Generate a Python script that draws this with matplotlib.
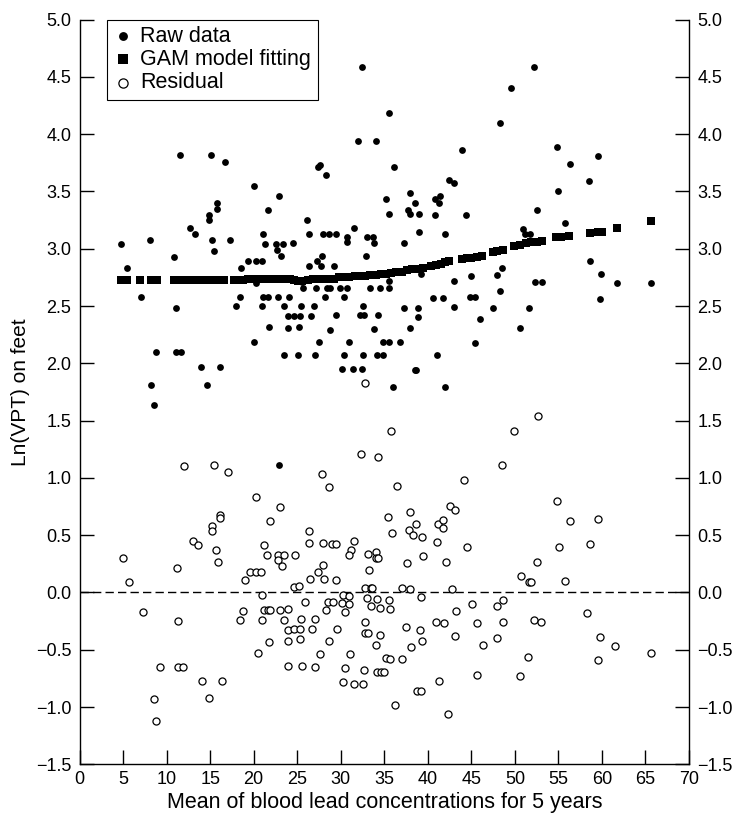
import matplotlib
matplotlib.use("Agg")
import matplotlib.pyplot as plt

plt.rcParams['font.family'] = ['Liberation Sans', 'DejaVu Sans']

# raw data points (blood lead, ln VPT)
raw_x = [4.8, 5.46, 7.1, 8.07, 8.18, 8.5, 8.83, 10.86, 11.05, 11.05, 11.6, 11.5,
         12.7, 13.28, 13.9, 14.6, 14.9, 14.9, 15.15, 15.26, 15.4, 15.77, 15.77,
         16.15, 16.7, 17.3, 18.0, 18.4, 18.6, 19.3, 20.0, 22.9, 27.4, 27.6, 28.3,
         32.0, 32.4, 34.0, 35.5, 36.1, 35.2, 21.7, 26.15, 35.6, 38.0, 38.5, 37.7,
         38.0, 39.0, 39.0, 21.06, 26.3, 27.95, 28.7, 29.45, 31.5, 30.75, 30.75,
         33.0, 33.7, 33.8, 21.3, 22.6, 23.35, 22.7, 23.1, 24.5, 37.25, 20.25,
         20.9, 26.3, 27.3, 27.9, 27.7, 29.2, 32.95, 20.3, 21.1, 21.7, 22.85, 24.1,
         25.7, 27.2, 28.4, 28.8, 28.2, 29.9, 30.7, 30.4, 33.35, 34.5, 35.6, 35.6,
         20.9, 23.5, 25.4, 26.95, 37.3, 24.0, 24.6, 25.3, 26.6, 29.4, 32.25, 32.7,
         34.3, 32.6, 38.9, 38.9, 21.75, 23.9, 25.2, 28.8, 33.8, 37.9, 20.0, 27.5,
         31.0, 34.9, 35.6, 36.8, 23.5, 25.1, 27.0, 30.4, 32.55, 34.15, 34.85,
         30.2, 31.4, 32.4, 38.5, 38.7, 36.0, 25.6, 52.2, 49.6, 48.25, 43.96, 54.8,
         59.6, 56.3, 42.4, 43.0, 58.5, 55.0, 40.8, 41.35, 41.3, 40.8, 44.4, 52.55,
         41.96, 50.9, 51.2, 51.75, 55.7, 58.6, 48.5, 47.9, 59.9, 39.25, 45.0,
         43.0, 52.35, 53.1, 61.75, 65.6, 40.6, 41.75, 44.8, 45.4, 48.25, 59.8,
         43.05, 47.5, 51.6, 46.0, 50.6, 45.4, 41.0, 41.95, 22.96]
raw_y = [3.04, 2.83, 2.58, 3.08, 1.81, 1.64, 2.10, 2.93, 2.48, 2.10, 2.10, 3.82,
         3.18, 3.13, 1.97, 1.81, 3.29, 3.25, 3.82, 3.08, 2.98, 3.40, 3.35,
         1.97, 3.76, 3.08, 2.50, 2.58, 2.83, 2.89, 3.55, 3.46, 3.71, 3.73, 3.64,
         3.94, 4.59, 3.94, 4.18, 3.71, 3.43, 3.34, 3.25, 3.30, 3.49, 3.40, 3.34,
         3.30, 3.30, 3.15, 3.13, 3.13, 3.13, 3.13, 3.13, 3.18, 3.10, 3.06,
         3.10, 3.10, 3.05, 3.04, 3.04, 3.04, 2.99, 2.94, 3.05, 3.05, 2.89,
         2.89, 2.85, 2.89, 2.94, 2.85, 2.85, 2.94, 2.70, 2.58, 2.58, 2.58, 2.58,
         2.66, 2.66, 2.66, 2.66, 2.58, 2.66, 2.66, 2.58, 2.66, 2.66, 2.66, 2.72,
         2.50, 2.50, 2.50, 2.50, 2.48, 2.41, 2.41, 2.41, 2.41, 2.42, 2.42, 2.42,
         2.42, 2.50, 2.48, 2.40, 2.32, 2.31, 2.32, 2.29, 2.30, 2.31, 2.19, 2.19,
         2.19, 2.19, 2.19, 2.19, 2.07, 2.07, 2.07, 2.07, 2.07, 2.07, 2.07,
         1.95, 1.95, 1.95, 1.94, 1.94, 1.79, 2.71, 4.59, 4.40, 4.10, 3.86, 3.89,
         3.81, 3.74, 3.60, 3.57, 3.59, 3.50, 3.43, 3.46, 3.40, 3.29, 3.29, 3.34,
         3.13, 3.17, 3.13, 3.13, 3.22, 2.89, 2.83, 2.77, 2.78, 2.78, 2.76,
         2.72, 2.71, 2.71, 2.70, 2.70, 2.57, 2.57, 2.58, 2.58, 2.63, 2.56,
         2.49, 2.48, 2.48, 2.39, 2.31, 2.18, 2.07, 1.79, 1.11]

# GAM fitted values
fit_x = [4.8, 5.5, 6.9, 8.2, 8.9, 10.8, 11.5, 12.5, 13.1, 13.7, 14.3, 14.8, 15.4,
         16.0, 16.6, 17.7, 18.2, 18.8, 19.4, 20.0, 20.6, 21.2, 21.8, 22.4, 23.0,
         23.6, 24.2, 24.6, 25.1, 25.6, 26.2, 26.8, 27.4, 28.0, 28.6, 29.2, 29.8,
         30.4, 31.0, 31.6, 32.2, 32.8, 33.4, 34.0, 34.6, 35.2, 35.8, 36.4, 37.0,
         37.6, 38.2, 38.8, 39.4, 40.4, 40.9, 41.5, 42.0, 42.4, 43.9, 44.5, 45.0,
         45.6, 46.2, 47.5, 48.0, 48.6, 49.9, 50.6, 51.3, 51.9, 52.5, 53.1, 54.7,
         55.3, 56.2, 58.6, 59.5, 60.0, 61.7, 65.6]
fit_y = [2.73, 2.73, 2.73, 2.73, 2.73, 2.73, 2.73, 2.73, 2.73, 2.73, 2.73, 2.73, 2.73,
         2.73, 2.73, 2.73, 2.73, 2.73, 2.74, 2.74, 2.74, 2.74, 2.74, 2.74, 2.74,
         2.74, 2.74, 2.73, 2.72, 2.72, 2.73, 2.74, 2.74, 2.74, 2.74, 2.74, 2.75,
         2.75, 2.75, 2.76, 2.76, 2.76, 2.77, 2.77, 2.78, 2.78, 2.79, 2.80, 2.80,
         2.81, 2.82, 2.82, 2.83, 2.85, 2.86, 2.87, 2.88, 2.89, 2.91, 2.92, 2.92,
         2.93, 2.94, 2.97, 2.98, 2.99, 3.02, 3.03, 3.05, 3.06, 3.06, 3.07, 3.10,
         3.10, 3.11, 3.14, 3.15, 3.15, 3.18, 3.24]

# residuals
res_x = [4.96, 5.65, 7.26, 9.2, 8.56, 8.83, 11.17, 11.36, 11.3, 11.9, 11.97, 13.05,
         13.6, 14.1, 14.9, 15.27, 15.27, 15.5, 15.65, 15.85, 16.1, 16.1, 16.4, 17.1,
         18.95, 18.8, 18.45, 19.6, 20.25, 20.86, 20.25, 21.0, 21.2, 21.6, 21.9,
         20.9, 20.5, 21.8, 21.2, 21.5, 21.9, 23.05, 22.8, 23.5, 22.85, 23.3, 23.0,
         23.5, 23.9, 23.9, 24.0, 23.9,
         35.8, 32.3, 34.3, 27.8, 28.6, 36.5, 44.1, 35.4, 37.99, 42.5, 43.1, 41.2,
         41.7, 41.7, 38.65, 37.8, 38.3, 39.3, 35.9, 26.3, 26.4, 28.0, 29.05, 29.5,
         31.55, 31.2, 31.0, 24.7, 33.1, 34.1, 34.1, 34.3, 41.1, 39.4, 37.6, 42.1,
         44.5, 28.0, 27.4, 33.3, 26.5, 28.05, 29.4, 24.65, 25.25, 32.8, 33.5, 33.6,
         37.0, 37.9, 42.8, 30.3, 30.9, 39.2, 25.9, 28.5, 29.1, 30.1, 30.9, 28.3,
         30.5, 33.05, 34.2, 35.6, 33.5, 34.5, 35.7, 43.2, 45.1, 25.4, 27.0, 24.65,
         25.3, 26.75, 29.6, 32.8, 32.8, 33.15, 34.5, 37.5, 39.1, 40.9, 41.9, 45.7,
         25.3, 28.7, 34.1, 39.3, 43.1, 38.05, 27.6, 31.1, 35.15, 35.7, 37.0, 25.5,
         27.1, 30.5, 32.7, 34.2, 34.6, 35.0, 30.3, 31.5, 32.5, 41.3, 38.8, 39.2,
         36.2, 42.3, 32.75,
         52.6, 49.9, 48.5, 54.8, 56.3, 59.5, 55.1, 58.6, 52.55, 50.75, 51.6, 51.9,
         55.8, 48.0, 48.6, 48.6, 52.2, 53.0, 58.3, 59.75, 61.5, 65.6, 46.3, 47.9,
         51.5, 59.6, 45.7, 50.6]
res_y = [0.305, 0.095, -0.17, -0.65, -0.93, -1.12, 0.21, -0.25, -0.65, -0.65, 1.107, 0.45,
         0.41, -0.77, -0.92, 0.58, 0.54, 1.11, 0.37, 0.27, 0.68, 0.65, -0.77, 1.05,
         0.11, -0.16, -0.24, 0.175, 0.175, 0.175, 0.83, -0.02, -0.157, -0.157, -0.157,
         -0.24, -0.53, -0.43, 0.41, 0.33, 0.62, 0.745, 0.33, 0.33, 0.28, 0.23, -0.15,
         -0.24, -0.145, -0.33, -0.42, -0.64,
         1.41, 1.21, 1.18, 1.03, 0.92, 0.93, 0.98, 0.66, 0.70, 0.757, 0.72, 0.60,
         0.63, 0.56, 0.60, 0.545, 0.50, 0.48, 0.52, 0.54, 0.43, 0.43, 0.42, 0.42,
         0.445, 0.37, 0.33, 0.33, 0.34, 0.35, 0.30, 0.30, 0.44, 0.32, 0.26, 0.27,
         0.40, 0.24, 0.18, 0.20, 0.12, 0.12, 0.11, 0.05, 0.06, 0.04, 0.04, 0.04,
         0.04, 0.03, 0.03, -0.02, -0.03, -0.04, -0.08, -0.08, -0.08, -0.09, -0.10, -0.15,
         -0.17, -0.05, -0.055, -0.07, -0.12, -0.135, -0.14, -0.16, -0.10, -0.23, -0.23, -0.32,
         -0.32, -0.32, -0.32, -0.26, -0.35, -0.35, -0.37, -0.30, -0.33, -0.26, -0.27, -0.27,
         -0.41, -0.42, -0.46, -0.42, -0.38, -0.48, -0.535, -0.54, -0.575, -0.58, -0.58, -0.64,
         -0.65, -0.655, -0.675, -0.69, -0.69, -0.69, -0.78, -0.80, -0.80, -0.77, -0.86, -0.86,
         -0.98, -1.06, 1.83,
         1.54, 1.41, 1.11, 0.795, 0.62, 0.645, 0.40, 0.42, 0.27, 0.145, 0.09, 0.09,
         0.10, -0.12, -0.07, -0.26, -0.24, -0.26, -0.18, -0.385, -0.47, -0.53, -0.46, -0.40,
         -0.56, -0.59, -0.72, -0.73]

xticks = list(range(0, 75, 5))
yticks = [-1.5, -1.0, -0.5, 0.0, 0.5, 1.0, 1.5, 2.0, 2.5, 3.0, 3.5, 4.0, 4.5, 5.0]

fig = plt.figure(figsize=(7.33, 8.14), dpi=100)
ax = fig.add_axes([0.1085, 0.061, 0.8315, 0.915])

ax.axhline(0, color='black', lw=1, ls=(0, (6, 3)), zorder=1)
ax.scatter(raw_x, raw_y, s=24, c='black', marker='o', lw=0, label='Raw data', zorder=3)
ax.scatter(fit_x, fit_y, s=28, c='black', marker='s', lw=0, label='GAM model fitting', zorder=4)
ax.scatter(res_x, res_y, s=26, facecolors='white', edgecolors='black', lw=0.9,
           marker='o', label='Residual', zorder=3)

ax.set_xlim(0, 70)
ax.set_ylim(-1.5, 5.0)
ax.set_xticks(xticks)
ax.set_yticks(yticks)
ax.set_yticklabels([f'{v:.1f}'.replace('-', '\u2212') for v in yticks])
ax.tick_params(direction='in', length=10, width=1, labelsize=13, right=True,
               labelright=True, pad=6)
ax.tick_params(axis='x', pad=5)
ax.spines['top'].set_visible(False)
for s in ['left', 'right', 'bottom']:
    ax.spines[s].set_linewidth(1)

ax.set_xlabel('Mean of blood lead concentrations for 5 years', fontsize=15.5, labelpad=3)
ax.set_ylabel('Ln(VPT) on feet', fontsize=15, labelpad=4)

leg = ax.legend(loc='upper left', bbox_to_anchor=(0.045, 1.0), borderaxespad=0,
                fontsize=15.5, frameon=True, fancybox=False, framealpha=1,
                edgecolor='black', handletextpad=0.35, handlelength=0.9,
                borderpad=0.3, labelspacing=0.1, markerscale=1.3)
leg.get_frame().set_linewidth(0.8)

fig.savefig('out.png', dpi=100)
